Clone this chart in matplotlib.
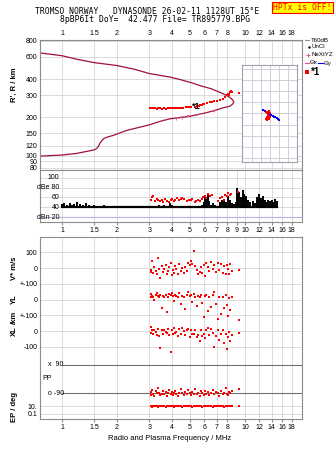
import matplotlib
matplotlib.use("Agg")
import matplotlib.pyplot as plt
import numpy as np

plt.rcParams['font.family'] = ['Liberation Sans', 'DejaVu Sans']
plt.rcParams['font.size'] = 5

W, H = 335, 451

# ---- data ----
freq_ticks = [1, 1.5, 2, 3, 4, 5, 6, 7, 8, 10, 12, 14, 16, 18]
freq_ticks_mid = [1, 1.5, 2, 3, 4, 5, 6, 7, 8, 9, 10, 12, 14, 16, 18]
height_ticks = [80, 90, 100, 120, 150, 200, 300, 400, 600, 800]

# Ne profile (plasma frequency vs real height), bottomside then topside
prof_f = [0.75, 1.0, 1.2, 1.37, 1.5, 1.55, 1.58, 1.61, 1.65, 1.7, 1.8, 1.9, 2.05, 2.26, 2.6,
          3.02, 3.43, 3.9, 4.41, 5.0, 5.46, 6.1, 6.7, 7.2, 7.6, 8.0, 8.3, 8.55, 8.7,
          8.55, 8.2, 7.5, 6.5, 5.7, 5.2, 4.4, 3.9, 3.0, 2.5, 2.0, 1.5, 1.2, 1.0, 0.75]
prof_h = [99, 101, 104, 108, 111, 114, 118, 125, 131, 137, 141, 144, 150, 158, 166,
          175, 186, 195, 199, 204, 210, 217, 225, 232, 238, 242, 246, 254, 264,
          275, 290, 310, 337, 355, 372, 398, 415, 443, 478, 512, 540, 575, 612, 645]

# O-mode echoes (virtual range)
echo_f = [3.02, 3.08, 3.15, 3.22, 3.3, 3.36, 3.45, 3.5, 3.6, 3.7, 3.8, 3.9, 4.0, 4.1, 4.2, 4.3,
          4.4, 4.5, 4.6, 4.75, 4.9, 5.0, 5.1, 5.3, 5.5, 5.6, 5.7, 5.8, 5.9, 6.0, 6.2, 6.4, 6.6,
          6.8, 7.0, 7.3, 7.6, 7.8, 7.95, 8.05, 8.15, 8.2, 8.3, 8.4, 8.5, 9.3]
echo_h = [238, 238, 237, 236, 234, 236, 235, 234, 235, 234, 235, 236, 236, 237, 237, 237,
          238, 238, 239, 240, 240, 241, 242, 243, 245, 247, 249, 251, 253, 255, 258, 263, 265,
          267, 269, 272, 280, 290, 298, 304, 308, 300, 318, 322, 316, 312]

# NeXtYZ points
nxyz_f = [3.65, 4.2, 4.55, 4.9, 5.45, 6.75]
nxyz_h = [192, 197, 200, 204, 210, 226]
nxyz_err = [0, 6, 6, 0, 0, 7]

# tilt inset
tilt_bx = [-7.5, -6, -4.5, -3, -1.5, 0, 1.5, 3, 4.5, 6, 7.5, 9, 10]
tilt_by = [3.5, 2.5, 1.5, 1, 0, -1, -1.5, -2.5, -3, -3.5, -4, -5, -5.5]
tilt_rx = [-4, -3, -2, -1, 0, -3, -2, -1, -4, -2, 0, -3, -1]
tilt_ry = [1, 0, -1, -2, -3, -3, -4, -5, -5, 1, 0, -6, 2]

# amplitude panel
noise_f = [1.0, 1.03, 1.06, 1.1, 1.13, 1.17, 1.2, 1.25, 1.3, 1.35, 1.4, 1.45, 1.5, 1.6, 1.7, 1.8,
           1.9, 2.0, 2.15, 2.3, 2.45, 2.6, 2.8, 3.0, 3.2, 3.4, 3.6, 3.8, 3.9, 4.0, 4.2, 4.4, 4.6,
           4.8, 5.0, 5.2, 5.4, 5.6, 5.8, 5.95, 6.05, 6.15, 6.25, 6.35, 6.5, 6.7, 6.9, 7.1, 7.3,
           7.5, 7.7, 7.9, 8.1, 8.3, 8.5, 8.7, 8.9, 9.05, 9.15, 9.3, 9.5, 9.7, 9.9, 10.1, 10.4,
           10.7, 11.0, 11.3, 11.6, 11.9, 12.2, 12.5, 12.8, 13.1, 13.4, 13.7, 14.0, 14.3, 14.6, 15.0]
noise_db = [46, 48, 44, 49, 45, 47, 50, 46, 44, 48, 45, 43, 44, 43, 44, 42, 43, 42, 42, 41,
            42, 41, 42, 42, 43, 44, 45, 42, 48, 44, 43, 42, 42, 42, 42, 42, 43, 42, 44, 50,
            60, 56, 69, 52, 45, 48, 44, 43, 50, 55, 52, 50, 62, 54, 48, 46, 50, 79, 65, 72,
            60, 75, 68, 62, 55, 50, 52, 48, 60, 67, 58, 62, 55, 50, 54, 52, 55, 50, 56, 53]
amp_f = [3.08, 3.1, 3.15, 3.22, 3.3, 3.35, 3.42, 3.5, 3.58, 3.66, 3.75, 3.85, 3.92, 4.0, 4.08,
         4.15, 4.25, 4.35, 4.45, 4.55, 4.65, 4.8, 4.95, 5.05, 5.15, 5.3, 5.4, 5.55, 5.65, 5.8,
         5.9, 6.05, 6.15, 6.3, 6.45, 6.6, 7.1, 7.3, 7.5, 7.65, 7.8, 7.95, 8.1, 8.25, 8.4, 9.15]
amp_db = [55, 60, 62, 52, 57, 54, 52, 55, 50, 57, 53, 50, 55, 57, 52, 55, 58, 54, 56, 59,
          57, 52, 55, 54, 57, 50, 53, 55, 52, 56, 60, 62, 58, 67, 63, 65, 52, 58, 60, 55,
          65, 62, 69, 66, 68, 72]

# echo parameters (lower panel)
par_f = [3.05, 3.08, 3.12, 3.16, 3.2, 3.25, 3.3, 3.35, 3.4, 3.45, 3.5, 3.56, 3.62, 3.68, 3.75,
         3.8, 3.86, 3.92, 3.98, 4.04, 4.1, 4.16, 4.22, 4.3, 4.38, 4.46, 4.54, 4.62, 4.7, 4.8,
         4.9, 5.0, 5.08, 5.16, 5.25, 5.35, 5.45, 5.55, 5.65, 5.75, 5.85, 5.95, 6.05, 6.15,
         6.25, 6.35, 6.5, 6.65, 6.8, 6.95, 7.1, 7.25, 7.4, 7.55, 7.7, 7.85, 8.0, 8.1, 8.2,
         8.3, 8.45, 9.3]
vstar = [-10, -22, 48, -30, 8, -15, -40, 65, -5, -62, 12, -25, -8, 20, -35, -18, 5, 30, -45, -12,
         -28, 15, -5, -38, 25, -15, -2, -30, 10, -20, 35, 20, 45, 28, 110, 15, -10, -35, -22, 5,
         -28, 18, -50, 30, 10, -15, 40, -8, 22, -25, 35, -10, 28, -30, 15, -40, 20, -5, -35, 25,
         -20, -12]
yl = [20, 35, 25, 18, -5, 30, 40, 22, 15, 28, -50, 25, 18, 30, -80, 20, 35, 28, 45, 22,
      -10, 30, 25, 18, 40, -30, 25, 20, -60, 30, 50, 22, 28, -15, 35, 20, -40, 25, 18, 30,
      -20, -110, 22, 28, -70, 15, -45, 30, 48, -25, -120, 20, -90, 15, -55, 30, -35, -105, 10, -65,
      20, -130]
xl = [25, -10, 5, -15, 10, -5, -25, 15, -30, -110, 5, -20, 10, -8, -12, 15, -25, -135, 5, -20,
      18, -10, -5, -30, 12, -15, 20, -2, -25, 8, 15, -40, 10, -20, -15, 5, -35, -25, -60, 10,
      -30, -15, -45, 5, 20, -25, 15, -10, -103, -30, 10, -55, -20, 5, -75, -15, -115, -35, -5, -60,
      -25, -10]
pp = [-85, -100, -70, -95, -110, -80, -92, -60, -88, -105, -95, -75, -98, -85, -112, -90, -70, -96,
      -84, -102, -90, -78, -95, -108, -88, -65, -92, -100, -82, -96, -72, -90, -104, -86, -94, -62,
      -98, -88, -110, -80, -92, -100, -75, -95, -85, -105, -90, -70, -98, -84, -92, -110, -78, -96,
      -88, -60, -94, -102, -86, -90, -80, -65]
ep = [10, 11, 9, 10.5, 9.5, 10, 11.5, 9, 10, 10.5, 9.5, 10, 11, 9, 10, 10.5, 9.5, 10, 11, 10,
      9, 10.5, 10, 9.5, 11, 10, 9, 10.5, 10, 11, 9.5, 10, 10.5, 9, 10, 11, 10, 9.5, 10.5, 10,
      9, 11, 10, 10.5, 9.5, 10, 11, 9, 10, 10.5, 10, 9.5, 11, 10, 9, 10.5, 10, 11, 9.5, 10,
      10.5, 10]

# strip offsets in the lower panel (units of m/s on the V* strip)
YL_OFF, XL_OFF, PP_OFF, EP_OFF, EP_DEC = -200, -400, -703, -901, 23

CURVE = '#a0103c'
PINK = '#e0509a'
GRID = '#d6d6d6'
SPINE = '#8c8c8c'
FLIM = (0.758, 20.5)

fig = plt.figure(figsize=(W / 100, H / 100), dpi=100)


def px_axes(l, t, r, b):
    return fig.add_axes([l / W, 1 - b / H, (r - l) / W, (b - t) / H])


def style(ax):
    for s in ax.spines.values():
        s.set_color(SPINE)
        s.set_linewidth(0.8)
    ax.set_xscale('log')
    ax.set_xlim(*FLIM)
    ax.minorticks_off()
    ax.set_xticks(freq_ticks)
    ax.set_xticklabels([f'{t:g}' for t in freq_ticks])
    ax.grid(True, color=GRID, lw=0.6)
    ax.set_axisbelow(True)
    ax.tick_params(length=0, pad=2, labelsize=5, colors='black')


# ---- top: virtual/real range ----
ax1 = px_axes(40, 40, 302, 170)
style(ax1)
ax1.set_yscale('log')
ax1.set_ylim(77, 814)
ax1.set_yticks(height_ticks)
ax1.set_yticklabels([str(t) for t in height_ticks])
ax1.minorticks_off()
ax1.tick_params(axis='x', labelbottom=False, labeltop=True, pad=2)
ax1.plot(prof_f, prof_h, color=CURVE, lw=0.9)
ax1.plot(echo_f, echo_h, 's', color='red', ms=2.0, mew=0)
ax1.errorbar(nxyz_f, nxyz_h, yerr=nxyz_err, fmt='s', color=PINK, ms=1.8, mew=0,
             elinewidth=0.6, capsize=1)
ax1.text(5.15, 243, '*1', fontsize=6.5, fontweight='bold', ha='left', va='center')

# tilt inset
axt = px_axes(242, 65, 297, 162)
axt.set_xlim(-31, 30)
axt.set_ylim(-44, 44)
axt.set_xticks([-20, -10, 0, 10, 20])
axt.set_yticks(range(-40, 41, 10))
axt.grid(True, color='#c8c8d4', lw=0.6)
axt.tick_params(length=0, labelleft=False, labelbottom=False)
for s in axt.spines.values():
    s.set_color('#a0a0b0')
    s.set_linewidth(0.8)
axt.plot(tilt_bx, tilt_by, 's-', color='blue', ms=1.6, lw=0.8, mew=0)
axt.plot(tilt_rx, tilt_ry, 's', color='red', ms=2.0, mew=0)

# ---- amplitude panel ----
ax2 = px_axes(40, 170, 302, 222)
style(ax2)
ax2.set_ylim(10.6, 115.4)
ax2.set_yticks([20, 40, 60, 80, 100])
ax2.tick_params(axis='y', labelleft=False)
ax2.tick_params(axis='x', length=2, direction='out', color=SPINE, pad=1.5)
ax2.set_xticks(freq_ticks_mid)
ax2.set_xticklabels([f'{t:g}' for t in freq_ticks_mid])
ax2.axhline(20, color='#b4b4e6', lw=0.8)
ax2.vlines(noise_f, 39, noise_db, color='black', lw=1.4)
ax2.plot(noise_f, [41] * len(noise_f), color='black', lw=1.6)
ax2.plot(amp_f, amp_db, 's', color='red', ms=2.0, mew=0)
for v, lab in zip([100, 80, 60, 40, 20], ['100', 'dBe 80', '60', '40', 'dBn 20']):
    ax2.text(0.074, v, lab, transform=ax2.get_yaxis_transform(), ha='right', va='center',
             fontsize=5)

# ---- echo parameter panel ----
ax3 = px_axes(40, 237, 302, 419)
style(ax3)
ax3.set_ylim(-958, 198)
ep_pos = [EP_OFF + EP_DEC * np.log10(v) for v in (10, 0.1)]
ax3.set_yticks([100, 0, -100, YL_OFF, YL_OFF - 100, XL_OFF, XL_OFF - 100] + ep_pos)
ax3.set_yticklabels(['100', '0', '+-100', '0', '+-100', '0', '-100', '10.', '0.1'])
ax3.tick_params(axis='x', length=2, direction='out', color=SPINE, pad=1.5)
for v in (90, -90):
    ax3.axhline(PP_OFF + v, xmin=(np.log10(1) - np.log10(FLIM[0])) / np.log10(FLIM[1] / FLIM[0]),
                color='#707070', lw=0.8)
ax3.text(0.03, PP_OFF + 90, 'x  90', transform=ax3.get_yaxis_transform(), va='center', fontsize=5)
ax3.text(0.01, PP_OFF, 'PP', transform=ax3.get_yaxis_transform(), va='center', fontsize=5)
ax3.text(0.03, PP_OFF - 90, 'o -90', transform=ax3.get_yaxis_transform(), va='center', fontsize=5)

ax3.plot(par_f, vstar, 's', color='red', ms=2.0, mew=0)
ax3.plot(par_f, np.array(yl) + YL_OFF, 's', color='red', ms=2.0, mew=0)
ax3.plot(par_f, np.array(xl) + XL_OFF, 's', color='red', ms=2.0, mew=0)
ax3.plot(par_f, np.array(pp) + PP_OFF, 's', color='red', ms=2.0, mew=0)
ax3.plot(par_f, EP_OFF + EP_DEC * np.log10(ep), 's', color='red', ms=2.0, mew=0)

# ---- annotations in pixel coordinates ----
ov = fig.add_axes([0, 0, 1, 1], zorder=-1)
ov.set_xlim(0, W)
ov.set_ylim(H, 0)
ov.axis('off')

mono = 'DejaVu Sans Mono'
ov.text(35, 12, 'TROMSO NORWAY   DYNASONDE 26-02-11 1128UT 15\u00b0E', family=mono,
        fontsize=5.8, va='center', ha='left')
ov.text(60, 20, '8pBP6It DoY=  42.477 File= TR895779.BPG', family=mono,
        fontsize=5.8, va='center', ha='left')
ov.text(302.5, 7.5, 'HPTx is OFF!', family=mono, fontsize=5.8, color='red', ha='center',
        va='center', bbox=dict(boxstyle='square,pad=0.15', fc='#ffff00', ec='red', lw=0.8))

bold = dict(fontweight='bold', rotation=90, ha='center', va='center', fontsize=5.5)
ov.text(14, 85, "R', R / km", **bold)
ov.text(14, 268, 'V* m/s', **bold)
ov.text(14, 299, 'YL', **bold)
ov.text(14, 317, '/km', **bold)
ov.text(14, 331, 'XL', **bold)
ov.text(14, 407, 'EP / deg', **bold)
ov.text(170, 439, 'Radio and Plasma Frequency / MHz', ha='center', va='center', fontsize=5.5)
ov.text(270, 170, '-20-10  0  10  20', ha='center', va='center', fontsize=4.3)
ov.text(270, 176, 'Tilt / deg', ha='center', va='center', fontsize=4.5)

# legend
LF = 4.4
ov.plot([305, 309], [40, 40], color='#909090', lw=0.8)
ov.text(311, 40, 'T60dB', va='center', fontsize=LF)
ov.plot([309], [47], '.', color='black', ms=1.5)
ov.text(312, 47, 'UnCl', va='center', fontsize=LF)
ov.plot([308], [55], '+', color=PINK, ms=3, mew=0.7)
ov.text(311, 55, 'NeXtYZ', va='center', fontsize=LF)
ov.plot([305, 309], [63, 63], color=PINK, lw=0.8)
ov.text(310, 63, '\u0398x', va='center', fontsize=LF)
ov.plot([318, 323], [63, 63], color='blue', lw=0.8)
ov.text(324, 63, '\u0398y', va='center', fontsize=LF)
ov.plot([307], [72], 's', color='red', ms=2.2, mew=0)
ov.text(311, 72, '*1', va='center', fontsize=7, fontweight='bold')

fig.savefig('out.png', dpi=100)
